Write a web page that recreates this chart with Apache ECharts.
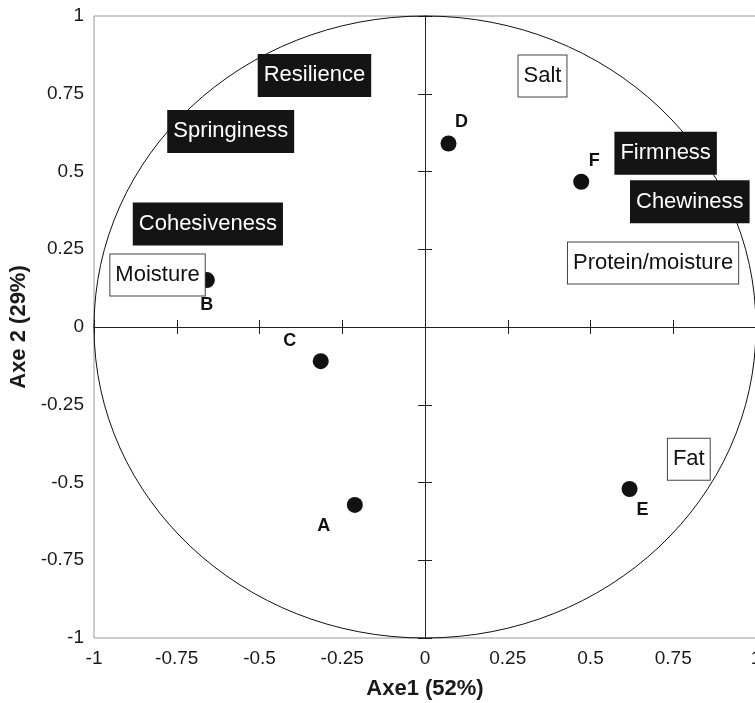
<!DOCTYPE html>
<html>
<head>
<meta charset="utf-8">
<script src="https://cdn.jsdelivr.net/npm/echarts@6/dist/echarts.min.js"></script>
<style>html,body{margin:0;padding:0;background:#fff}#c{width:755px;height:703px}</style>
</head>
<body>
<div id="c"></div>
<script>
// Axis ticks
var axisMin = -1, axisMax = 1, axisStep = 0.25;
var xTitle = 'Axe1 (52%)';
var yTitle = 'Axe 2 (29%)';

// Individuals (samples)
var sampleNames = ['A', 'B', 'C', 'D', 'E', 'F'];
var sampleX = [-0.212, -0.659, -0.315, 0.071, 0.618, 0.472];
var sampleY = [-0.572, 0.151, -0.110, 0.590, -0.521, 0.467];
var sampleLabelSide = ['lowerLeft', 'below', 'upperLeft', 'upperRight', 'lowerRight', 'upperRight'];

// Variables
var varNames = ['Resilience', 'Springiness', 'Cohesiveness', 'Moisture', 'Salt', 'Firmness', 'Chewiness', 'Protein/moisture', 'Fat'];
var varX = [-0.334, -0.587, -0.656, -0.808, 0.355, 0.727, 0.800, 0.689, 0.797];
var varY = [0.809, 0.629, 0.331, 0.167, 0.807, 0.559, 0.403, 0.206, -0.425];
var varKind = ['texture', 'texture', 'texture', 'composition', 'composition', 'texture', 'texture', 'composition', 'composition'];

var FONT = '"Liberation Sans", Arial, Helvetica, sans-serif';
var sideOffset = {
  upperRight: [13, -21], lowerRight: [13, 21], upperLeft: [-31, -20], lowerLeft: [-31, 21], below: [0, 25]
};

var chart = echarts.init(document.getElementById('c'), null, {renderer: 'canvas'});

function zeroAxis(extra) {
  return Object.assign({
    type: 'value', min: axisMin, max: axisMax, interval: axisStep,
    axisLabel: {show: false}, splitLine: {show: false},
    axisLine: {show: true, onZero: true, onZeroAxisIndex: 0, lineStyle: {color: '#222', width: 1}},
    axisTick: {show: true, length: 7, lineStyle: {color: '#222', width: 1}}
  }, extra);
}

var samples = sampleNames.map(function (n, i) {
  return {
    name: n, value: [sampleX[i], sampleY[i]],
    label: {offset: sideOffset[sampleLabelSide[i]]}
  };
});

var vars = varNames.map(function (n, i) {
  var dark = varKind[i] === 'texture';
  return {
    name: n, value: [varX[i], varY[i]],
    label: {
      color: dark ? '#ffffff' : '#111111',
      backgroundColor: dark ? '#141414' : '#ffffff',
      borderColor: dark ? '#141414' : '#444444',
      borderWidth: 1
    }
  };
});

chart.setOption({
  animation: false,
  backgroundColor: '#fff',
  grid: {left: 94, top: 16, width: 662, height: 622, containLabel: false, outerBoundsMode: 'none',
    show: true, borderColor: '#999', borderWidth: 1, backgroundColor: 'transparent'},
  xAxis: [
    {
      type: 'value', min: axisMin, max: axisMax, interval: axisStep, position: 'bottom',
      name: xTitle, nameLocation: 'middle', nameGap: 40,
      nameTextStyle: {fontFamily: FONT, fontSize: 22, fontWeight: 'bold', color: '#1a1a1a'},
      axisLine: {show: false, onZero: false}, axisTick: {show: false}, splitLine: {show: false},
      axisLabel: {fontFamily: FONT, fontSize: 19, color: '#1a1a1a', margin: 11}
    },
    zeroAxis({position: 'bottom'}),
    zeroAxis({position: 'top'})
  ],
  yAxis: [
    {
      type: 'value', min: axisMin, max: axisMax, interval: axisStep, position: 'left',
      name: yTitle, nameLocation: 'middle', nameGap: 64, nameRotate: 90,
      nameTextStyle: {fontFamily: FONT, fontSize: 22, fontWeight: 'bold', color: '#1a1a1a'},
      axisLine: {show: false, onZero: false}, axisTick: {show: false}, splitLine: {show: false},
      axisLabel: {fontFamily: FONT, fontSize: 19, color: '#1a1a1a', margin: 10}
    },
    zeroAxis({position: 'left'}),
    zeroAxis({position: 'right'})
  ],
  series: [
    {
      type: 'custom',
      coordinateSystem: 'cartesian2d',
      clip: false,
      silent: true,
      z: 1,
      data: [[0, 0]],
      renderItem: function (params, api) {
        var c = api.coord([0, 0]);
        var e = api.coord([1, 1]);
        return {
          type: 'ellipse',
          shape: {cx: c[0], cy: c[1], rx: e[0] - c[0], ry: c[1] - e[1]},
          style: {fill: 'none', stroke: '#111', lineWidth: 1}
        };
      }
    },
    {
      type: 'scatter',
      z: 3,
      symbol: 'circle',
      symbolSize: 16,
      itemStyle: {color: '#111', opacity: 1},
      label: {
        show: true, position: 'inside', formatter: '{b}', opacity: 1,
        fontFamily: FONT, fontSize: 18, fontWeight: 'bold', color: '#111'
      },
      data: samples
    },
    {
      type: 'scatter',
      z: 5,
      symbol: 'circle',
      symbolSize: 1,
      itemStyle: {color: 'rgba(0,0,0,0)', opacity: 1},
      label: {
        show: true, position: 'inside', formatter: '{b}', opacity: 1,
        fontFamily: FONT, fontSize: 22, lineHeight: 24,
        padding: [9, 5, 8, 5]
      },
      data: vars
    }
  ]
});
</script>
</body>
</html>
